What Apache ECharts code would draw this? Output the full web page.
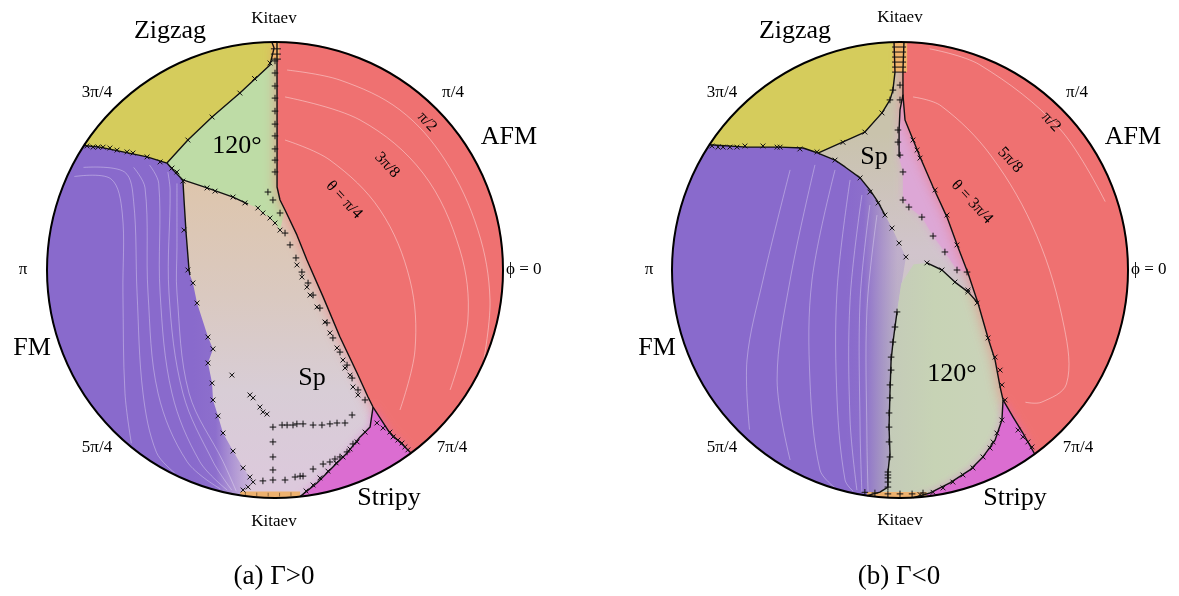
<!DOCTYPE html>
<html><head><meta charset="utf-8">
<script src="https://cdn.jsdelivr.net/npm/echarts@6.0.0/dist/echarts.min.js"></script>
<style>html,body{margin:0;padding:0;background:#fff}#chart{width:1179px;height:596px}</style>
</head><body><div id="chart"></div>
<script>
// Point on the unit circle (phase boundary meets the edge) at angle phi in degrees
const E = d => [Math.cos(d*Math.PI/180), Math.sin(d*Math.PI/180)];

// ================= Panel (a)  Gamma > 0  (unit-disk coordinates) =================
const afmLineA   = [E(89.5),[0.009,0.658],[0.009,0.364],[0.022,0.307],[0.044,0.263],[0.096,0.154],[0.140,0.044],[0.211,-0.118],[0.285,-0.294],[0.360,-0.452],[0.408,-0.557],[0.430,-0.601],[0.504,-0.715],[0.561,-0.768],E(-53.4)];
const stripyLineA= [[0.430,-0.601],[0.417,-0.689],[0.373,-0.732],[0.316,-0.803],[0.241,-0.877],[0.184,-0.934],E(-83.7)];
const zzfmA      = [E(146.9),[-0.768,0.539],[-0.667,0.518],[-0.561,0.496],[-0.474,0.469]];
const zz120A     = [[-0.474,0.469],[-0.382,0.570],[-0.276,0.671],[-0.154,0.776],[-0.022,0.899],[-0.004,0.974],E(90.8)];
const junctA     = [[-0.474,0.469],[-0.447,0.439],[-0.404,0.395]];
const l120spA    = [[-0.404,0.395],[-0.298,0.360],[-0.184,0.320],[-0.118,0.289]];
const cross120A  = [[-0.075,0.272],[-0.053,0.250],[-0.022,0.228],[0.000,0.206],[0.022,0.175]];
const fmSolidA   = [[-0.404,0.395],[-0.399,0.307],[-0.390,0.162],[-0.377,0.000],[-0.373,-0.022]];
const fmCrossA   = [[-0.360,-0.057],[-0.342,-0.145],[-0.294,-0.294],[-0.272,-0.346],[-0.294,-0.408],[-0.276,-0.496],[-0.272,-0.570],[-0.250,-0.640],[-0.228,-0.715],[-0.184,-0.794],[-0.140,-0.868],[-0.110,-0.908],[-0.096,-0.930],[-0.118,-0.952],[-0.140,-0.965]];
const kitTopA    = [E(90.9),E(88.9),[0.019,0.925],[-0.015,0.925]];
const kitBotA    = [E(-98.8),E(-83.7),[0.110,-0.972],[-0.152,-0.972]];
const kitTicksA  = [[0.004,0.970],[0.004,0.947],[0.004,0.925]];
const kitBotTicksA=[[-0.13,-0.982],[-0.08,-0.984],[-0.03,-0.985],[0.02,-0.985],[0.07,-0.983]];
const plusAfmA   = [[0,0.917],[0,0.864],[0,0.807],[0,0.754],[0,0.697],[0,0.640],[0,0.588],[0,0.531],[0,0.482],[0,0.430],[-0.031,0.342],[-0.009,0.307],[0.022,0.250],[0.044,0.162],[0.066,0.110],[0.092,0.053],[0.118,-0.009],[0.145,-0.057],[0.167,-0.110],[0.197,-0.167],[0.228,-0.232],[0.254,-0.298],[0.285,-0.360],[0.316,-0.417],[0.338,-0.474],[0.364,-0.526],[0.395,-0.570]];
const plusInA    = [[-0.009,-0.689],[0.031,-0.680],[0.053,-0.680],[0.079,-0.680],[0.096,-0.675],[0.123,-0.675],[0.167,-0.680],[0.206,-0.680],[0.241,-0.675],[0.272,-0.671],[0.307,-0.671],[0.338,-0.636],[-0.009,-0.754],[-0.009,-0.820],[-0.009,-0.877],[-0.053,-0.925],[-0.009,-0.921],[0.044,-0.921],[0.088,-0.908],[0.110,-0.904],[0.123,-0.904],[0.167,-0.873],[0.211,-0.851],[0.241,-0.842],[0.263,-0.829],[0.285,-0.820],[0.316,-0.798],[0.342,-0.763]];
const crossEdgeA = [[-0.825,0.544],[-0.798,0.539],[-0.776,0.539],[-0.754,0.539],[-0.724,0.535],[-0.693,0.526],[-0.649,0.518],[-0.623,0.513],[-0.561,0.496],[-0.504,0.474],[-0.022,0.908],[-0.090,0.840],[-0.154,0.776],[-0.276,0.671],[-0.382,0.570],[-0.452,0.447],[-0.430,0.430],[-0.404,0.390],[-0.298,0.360],[-0.263,0.346],[-0.184,0.320],[-0.132,0.294],[-0.399,0.175],[-0.382,0.000]];
const crossAfmA  = [[0.096,0.022],[0.118,-0.031],[0.140,-0.075],[0.154,-0.110],[0.184,-0.162],[0.219,-0.228],[0.241,-0.276],[0.272,-0.342],[0.298,-0.395],[0.307,-0.430],[0.329,-0.461],[0.342,-0.513],[0.364,-0.548],[0.447,-0.671],[0.474,-0.693],[0.504,-0.711],[0.518,-0.732],[0.539,-0.746],[0.557,-0.759],[0.570,-0.776],[0.583,-0.789]];
const crossStrA  = [[0.395,-0.711],[0.360,-0.754],[0.329,-0.785],[0.298,-0.820],[0.268,-0.846],[0.232,-0.882],[0.197,-0.912],[0.167,-0.943],[0.136,-0.969]];
const crossInA   = [[-0.189,-0.461],[-0.110,-0.548],[-0.096,-0.561],[-0.066,-0.601],[-0.053,-0.623],[-0.035,-0.632]];
const contFmA = [
  [[-0.88,0.41],[-0.72,0.40],[-0.67,0.25],[-0.667,-0.10],[-0.658,-0.54],[-0.63,-0.76]],
  [[-0.84,0.45],[-0.66,0.43],[-0.62,0.30],[-0.605,-0.10],[-0.579,-0.54],[-0.52,-0.80],[-0.44,-0.89]],
  [[-0.62,0.45],[-0.57,0.36],[-0.557,-0.10],[-0.513,-0.54],[-0.386,-0.84],[-0.24,-0.96]],
  [[-0.55,0.46],[-0.51,0.38],[-0.504,-0.10],[-0.452,-0.54],[-0.33,-0.84],[-0.21,-0.965]],
  [[-0.47,0.43],[-0.46,0.35],[-0.465,-0.10],[-0.404,-0.54],[-0.272,-0.84],[-0.19,-0.965]],
  [[-0.43,0.38],[-0.43,0.10],[-0.43,-0.10],[-0.377,-0.54],[-0.228,-0.84],[-0.17,-0.97]]
];
const contAfmA = [
  [[0.053,0.877],[0.285,0.833],[0.548,0.702],[0.746,0.482],[0.890,0.175],[0.943,-0.132],[0.908,-0.439]],
  [[0.044,0.759],[0.373,0.658],[0.649,0.425],[0.811,0.088],[0.846,-0.219],[0.768,-0.526]],
  [[0.044,0.570],[0.241,0.482],[0.461,0.263],[0.592,-0.044],[0.614,-0.351],[0.548,-0.614]]
];

// ================= Panel (b)  Gamma < 0 =================
const afmLineB  = [E(89.0),[0.013,0.877],[0.013,0.768],[0.022,0.658],[0.088,0.496],[0.145,0.364],[0.206,0.232],[0.254,0.101],[0.298,-0.013],[0.342,-0.145],[0.386,-0.298],[0.417,-0.395],[0.439,-0.513],[0.452,-0.570],[0.496,-0.645],[0.539,-0.715],E(-53.8)];
const kLeftB    = [E(91.5),[-0.022,0.868],[-0.031,0.789],[-0.044,0.746],[-0.079,0.689],[-0.154,0.605],[-0.360,0.513]];
const zzfmB     = [E(146.7),[-0.671,0.539],[-0.526,0.539],[-0.425,0.535],[-0.360,0.513]];
const fmCurveB  = [[-0.360,0.513],[-0.285,0.482],[-0.241,0.452],[-0.175,0.404],[-0.132,0.351],[-0.096,0.298],[-0.066,0.241]];
const fmCrossB  = [[-0.035,0.184],[-0.004,0.118],[0.026,0.057]];
const fm120B    = [[-0.013,-0.184],[-0.022,-0.250],[-0.031,-0.320],[-0.039,-0.395],[-0.044,-0.539],[-0.048,-0.689],[-0.044,-0.803],[-0.053,-0.890],[-0.053,-0.952],[-0.088,-0.974],E(-98.3)];
const vLineB    = [[0.013,0.768],[0.000,0.702],[-0.004,0.614],[-0.004,0.496]];
const pinkPlusB = [[0.013,0.430],[0.013,0.307],[0.039,0.276],[0.096,0.232],[0.145,0.149],[0.197,0.079],[0.250,0.000],[0.294,-0.009]];
const top120B   = [[0.118,0.031],[0.184,0.000],[0.241,-0.053],[0.298,-0.096],[0.342,-0.145]];
const greenTopB = [[0.005,-0.060],[0.060,0.025]];
const str120B   = [[0.452,-0.570],[0.447,-0.658],[0.417,-0.746],[0.364,-0.820],[0.307,-0.877],[0.219,-0.934],[0.132,-0.978],E(-86.7)];
const kitTopB   = [E(91.8),E(88.2),[0.031,0.868],[-0.031,0.868]];
const kitBotB   = [E(-98.3),E(-83.2),[0.118,-0.974],[-0.145,-0.974]];
const kitTicksB = [[-0.004,0.978],[-0.004,0.956],[-0.004,0.934],[-0.004,0.912],[-0.004,0.890],[-0.004,0.868]];
const plusB     = [[-0.031,0.789],[-0.044,0.746],[0,0.811],[0,0.746],[-0.009,0.614],[-0.009,0.561],[0,0.504],[-0.013,-0.184],[-0.022,-0.250],[-0.031,-0.316],[-0.039,-0.382],[-0.039,-0.439],[-0.044,-0.504],[-0.044,-0.561],[-0.048,-0.627],[-0.048,-0.689],[-0.048,-0.754],[-0.044,-0.820],[-0.053,-0.886],[-0.053,-0.899],[-0.053,-0.912],[-0.053,-0.930],[-0.053,-0.952],[-0.154,-0.975],[-0.110,-0.978],[-0.053,-0.982],[0,-0.982],[0.053,-0.982],[0.101,-0.978]];
const crossB    = [[-0.825,0.544],[-0.798,0.539],[-0.776,0.539],[-0.746,0.539],[-0.715,0.539],[-0.680,0.544],[-0.601,0.544],[-0.539,0.539],[-0.526,0.539],[-0.439,0.531],[-0.364,0.518],[-0.079,0.689],[-0.154,0.605],[-0.250,0.560],[-0.285,0.482],[-0.175,0.404],[-0.132,0.342],[-0.096,0.294],[-0.066,0.241],[-0.035,0.184],[-0.004,0.118],[0.026,0.057],[0.057,0.570],[0.075,0.526],[0.088,0.491],[0.154,0.351],[0.206,0.241],[0.250,0.110],[0.298,-0.088],[0.338,-0.145],[0.386,-0.298],[0.417,-0.382],[0.439,-0.439],[0.447,-0.504],[0.461,-0.570],[0.518,-0.702],[0.539,-0.732],[0.561,-0.754],[0.579,-0.776],[0.118,0.031],[0.184,0.000],[0.241,-0.053],[0.298,-0.096],[0.447,-0.658],[0.425,-0.715],[0.408,-0.754],[0.395,-0.781],[0.364,-0.820],[0.320,-0.868],[0.276,-0.899],[0.232,-0.930],[0.189,-0.956],[0.145,-0.975],[0.088,-0.985]];
const contFmB = [
  [[-0.482,0.439],[-0.601,-0.044],[-0.671,-0.395],[-0.66,-0.70]],
  [[-0.373,0.461],[-0.482,-0.044],[-0.539,-0.482],[-0.482,-0.833]],
  [[-0.285,0.439],[-0.386,-0.044],[-0.395,-0.482],[-0.351,-0.877],[-0.285,-0.955]],
  [[-0.219,0.395],[-0.276,-0.088],[-0.276,-0.570],[-0.241,-0.921],[-0.206,-0.970]],
  [[-0.167,0.329],[-0.219,-0.132],[-0.219,-0.658],[-0.189,-0.965]],
  [[-0.132,0.285],[-0.175,-0.132],[-0.175,-0.702],[-0.167,-0.975]],
  [[-0.101,0.241],[-0.145,-0.175],[-0.145,-0.746],[-0.140,-0.975]]
];
const contAfmB = [
  [[0.057,0.759],[0.18,0.72],[0.40,0.50],[0.60,0.15],[0.72,-0.25],[0.73,-0.50],[0.62,-0.58],[0.55,-0.58]],
  [[0.13,0.97],[0.35,0.90],[0.70,0.62],[0.90,0.30]]
];

// ================= labels =================
const SERIF = '"Liberation Serif","DejaVu Serif",serif';
const labels = [
  // [x, y, text, size, rotationDeg, align]
  [274,19,'Kitaev',17], [170,31,'Zigzag',26], [97,93,'3π/4',17], [453,93,'π/4',17], [509,137,'AFM',26],
  [23,270,'π',17], [506,270,'ϕ = 0',17,0,'left'], [32,348,'FM',26], [97,448,'5π/4',17], [452,448,'7π/4',17],
  [389,498,'Stripy',26], [274,522,'Kitaev',17], [237,146,'120°',26], [312,378,'Sp',26],
  [344,200,'θ = π/4',16,-47], [387,165,'3π/8',16,-47], [427,122,'π/2',16,-47],
  [900,18,'Kitaev',17], [795,31,'Zigzag',26], [722,93,'3π/4',17], [1077,93,'π/4',17], [1133,137,'AFM',26],
  [649,270,'π',17], [1131,270,'ϕ = 0',17,0,'left'], [657,348,'FM',26], [722,448,'5π/4',17], [1078,448,'7π/4',17],
  [1015,498,'Stripy',26], [900,521,'Kitaev',17], [952,374,'120°',26], [874,157,'Sp',26],
  [972,202,'θ = 3π/4',16,-47], [1010,160,'5π/8',16,-47], [1051,122,'π/2',16,-47],
  [274,577,'(a) Γ>0',27], [899,577,'(b) Γ<0',27]
];

// ================= drawing helpers =================
function pathPts(pts, api, close){
  const out=[]; const n=pts.length;
  for(let i=0;i<n;i++){
    const a=pts[i]; out.push(api.coord(a));
    if(!close && i===n-1) break;
    const b=pts[(i+1)%n];
    if(Math.hypot(a[0],a[1])>0.999 && Math.hypot(b[0],b[1])>0.999){
      const t1=Math.atan2(a[1],a[0]); let d=Math.atan2(b[1],b[0])-t1;
      while(d>Math.PI)d-=2*Math.PI; while(d<-Math.PI)d+=2*Math.PI;
      const m=Math.max(2,Math.ceil(Math.abs(d)/0.015));
      for(let k=1;k<m;k++){const t=t1+d*k/m; out.push(api.coord([Math.cos(t),Math.sin(t)]));}
    }
  }
  return out;
}
const poly=(api,pts,fill,extra)=>Object.assign({type:'polygon',shape:{points:pathPts(pts,api,true)},style:Object.assign({fill:fill,stroke:null},extra||{})});
const line=(api,pts,w)=>({type:'polyline',shape:{points:pathPts(pts,api,false)},style:{stroke:'#111',lineWidth:w||1.4,fill:null,lineJoin:'round'}});
const cont=(api,pts,a)=>({type:'polyline',shape:{points:pts.map(p=>api.coord(p)),smooth:0.35},style:{stroke:'rgba(255,255,255,'+(a||0.33)+')',lineWidth:1,fill:null}});
function plus(api,p,s){const c=api.coord(p);return [{type:'line',shape:{x1:c[0]-s,y1:c[1],x2:c[0]+s,y2:c[1]},style:{stroke:'#111',lineWidth:1}},{type:'line',shape:{x1:c[0],y1:c[1]-s,x2:c[0],y2:c[1]+s},style:{stroke:'#111',lineWidth:1}}];}
function cross(api,p,s){const c=api.coord(p);return [{type:'line',shape:{x1:c[0]-s,y1:c[1]-s,x2:c[0]+s,y2:c[1]+s},style:{stroke:'#111',lineWidth:1}},{type:'line',shape:{x1:c[0]-s,y1:c[1]+s,x2:c[0]+s,y2:c[1]-s},style:{stroke:'#111',lineWidth:1}}];}
function hbar(api,p,s){const c=api.coord(p);return [{type:'line',shape:{x1:c[0]-s,y1:c[1],x2:c[0]+s,y2:c[1]},style:{stroke:'#111',lineWidth:1}}];}
function vbar(api,p,s){const c=api.coord(p);return [{type:'line',shape:{x1:c[0],y1:c[1]-s,x2:c[0],y2:c[1]+s},style:{stroke:'rgba(60,40,20,0.7)',lineWidth:0.8}}];}
const LG=(x1,y1,x2,y2,stops)=>new echarts.graphic.LinearGradient(x1,y1,x2,y2,stops.map(s=>({offset:s[0],color:s[1]})),true);

function frame(api){
  const c=api.coord([0,0]); const r=api.size([1,0])[0];
  return {c,r};
}

function drawA(api){
  const {c,r}=frame(api); const ch=[];
  const Y=v=>api.coord([0,v])[1], X=u=>api.coord([u,0])[0];
  ch.push({type:'circle',shape:{cx:c[0],cy:c[1],r:r},style:{fill:LG(0,Y(0.45),0,Y(-0.95),[[0,'#DEC5AA'],[0.4,'#DAC9C0'],[0.7,'#D8CDD6'],[1,'#DCC9DC']])}});
  ch.push(poly(api,[...zzfmA,...junctA.slice(1),...fmSolidA.slice(1),...fmCrossA,E(-98.8)],LG(X(-0.36),0,X(-0.11),0,[[0,'rgba(137,106,204,1)'],[0.4,'rgba(137,106,204,0.95)'],[1,'rgba(165,138,212,0.35)']])));
  contFmA.forEach(p=>ch.push(cont(api,p)));
  ch.push(poly(api,[...zzfmA,...zz120A.slice(1)],'#D5CC5C'));
  ch.push(poly(api,[...afmLineA.slice(0,5),...cross120A.slice().reverse(),...l120spA.slice().reverse(),...junctA.slice().reverse().slice(1),...zz120A.slice(1)],'#BEDCA6'));
  ch.push(poly(api,afmLineA,'#EF7171',{shadowBlur:14,shadowColor:'rgba(239,113,113,0.75)'}));
  contAfmA.forEach(p=>ch.push(cont(api,p,0.4)));
  ch.push(poly(api,[...afmLineA.slice(11),...stripyLineA.slice().reverse()],'#DB6DD1',{shadowBlur:8,shadowColor:'rgba(219,109,209,0.6)'}));
  ch.push(poly(api,kitTopA,'#F2B46C'));
  ch.push(poly(api,kitBotA,'#EDB16E'));
  ch.push({type:'circle',shape:{cx:c[0],cy:c[1],r:r+14},style:{fill:null,stroke:'#fff',lineWidth:26}});
  [afmLineA,stripyLineA,zzfmA,zz120A,junctA,l120spA,fmSolidA].forEach(p=>ch.push(line(api,p)));
  [...plusAfmA,...plusInA].forEach(p=>ch.push(...plus(api,p,3.3)));
  [...crossEdgeA,...cross120A,...fmCrossA,...crossAfmA,...crossStrA,...crossInA].forEach(p=>ch.push(...cross(api,p,2.4)));
  kitTicksA.forEach(p=>ch.push(...hbar(api,p,5)));
  kitBotTicksA.forEach(p=>ch.push(...vbar(api,p,1.8)));
  ch.push({type:'circle',shape:{cx:c[0],cy:c[1],r:r},style:{fill:null,stroke:'#000',lineWidth:2}});
  return {type:'group',children:ch};
}

function drawB(api){
  const {c,r}=frame(api); const ch=[];
  const Y=v=>api.coord([0,v])[1], X=u=>api.coord([u,0])[0];
  ch.push({type:'circle',shape:{cx:c[0],cy:c[1],r:r},style:{fill:LG(0,Y(0.6),0,Y(-0.9),[[0,'#C9C3AC'],[0.35,'#D1C4CC'],[0.6,'#C8C6C2'],[1,'#C3C8B6']])}});
  ch.push(poly(api,[...zzfmB,...fmCurveB.slice(1),...fmCrossB,...fm120B],LG(X(-0.24),0,X(-0.01),0,[[0,'rgba(137,106,204,1)'],[0.35,'rgba(137,106,204,0.95)'],[1,'rgba(150,125,200,0.3)']])));
  contFmB.forEach(p=>ch.push(cont(api,p)));
  ch.push(poly(api,[...kLeftB,...zzfmB.slice(0,-1).reverse()],'#D5CC5C'));
  ch.push(poly(api,[...vLineB,...pinkPlusB,[0.342,-0.145],...afmLineB.slice(3,9).reverse()],'#DDA7D6',{shadowBlur:8,shadowColor:'rgba(221,167,214,0.8)'}));
  ch.push(poly(api,[...top120B,...afmLineB.slice(10,13),...str120B,...fm120B.slice().reverse(),...greenTopB],LG(X(-0.05),0,X(0.35),0,[[0,'rgba(196,203,184,0.95)'],[0.5,'#C7D3B5'],[1,'#C9D3B8']])));
  ch.push(poly(api,afmLineB,'#EF7171',{shadowBlur:14,shadowColor:'rgba(239,113,113,0.75)'}));
  contAfmB.forEach(p=>ch.push(cont(api,p,0.4)));
  ch.push(poly(api,[...afmLineB.slice(13),...str120B.slice().reverse()],'#DB6DD1',{shadowBlur:8,shadowColor:'rgba(219,109,209,0.6)'}));
  ch.push(poly(api,kitTopB,'#F2B46C'));
  ch.push(poly(api,kitBotB,'#EDB16E'));
  ch.push({type:'circle',shape:{cx:c[0],cy:c[1],r:r+14},style:{fill:null,stroke:'#fff',lineWidth:26}});
  [afmLineB,kLeftB,zzfmB,fmCurveB,vLineB,top120B,fm120B,str120B].forEach(p=>ch.push(line(api,p)));
  [...plusB,...pinkPlusB].forEach(p=>ch.push(...plus(api,p,3.3)));
  crossB.forEach(p=>ch.push(...cross(api,p,2.4)));
  kitTicksB.forEach(p=>ch.push(...hbar(api,p,7)));
  ch.push({type:'circle',shape:{cx:c[0],cy:c[1],r:r},style:{fill:null,stroke:'#000',lineWidth:2}});
  return {type:'group',children:ch};
}

const chart = echarts.init(document.getElementById('chart'), null, {renderer:'canvas'});
const ax = i => ({gridIndex:i,type:'value',min:-1,max:1,show:false,splitLine:{show:false}});
chart.setOption({
  animation:false,
  backgroundColor:'#fff',
  grid:[{left:47,top:42,width:456,height:456},{left:672,top:42,width:456,height:456}],
  xAxis:[ax(0),ax(1)], yAxis:[ax(0),ax(1)],
  series:[
    {type:'custom',coordinateSystem:'cartesian2d',xAxisIndex:0,yAxisIndex:0,data:[[0,0]],silent:true,renderItem:(p,api)=>drawA(api)},
    {type:'custom',coordinateSystem:'cartesian2d',xAxisIndex:1,yAxisIndex:1,data:[[0,0]],silent:true,renderItem:(p,api)=>drawB(api)}
  ],
  graphic:{elements:labels.map(l=>({type:'text',x:l[0],y:l[1],rotation:(l[4]||0)*Math.PI/180,z:100,silent:true,
    style:{text:l[2],font:l[3]+'px '+SERIF,fill:'#000',textAlign:l[5]||'center',textVerticalAlign:'middle'}}))}
});
</script></body></html>
